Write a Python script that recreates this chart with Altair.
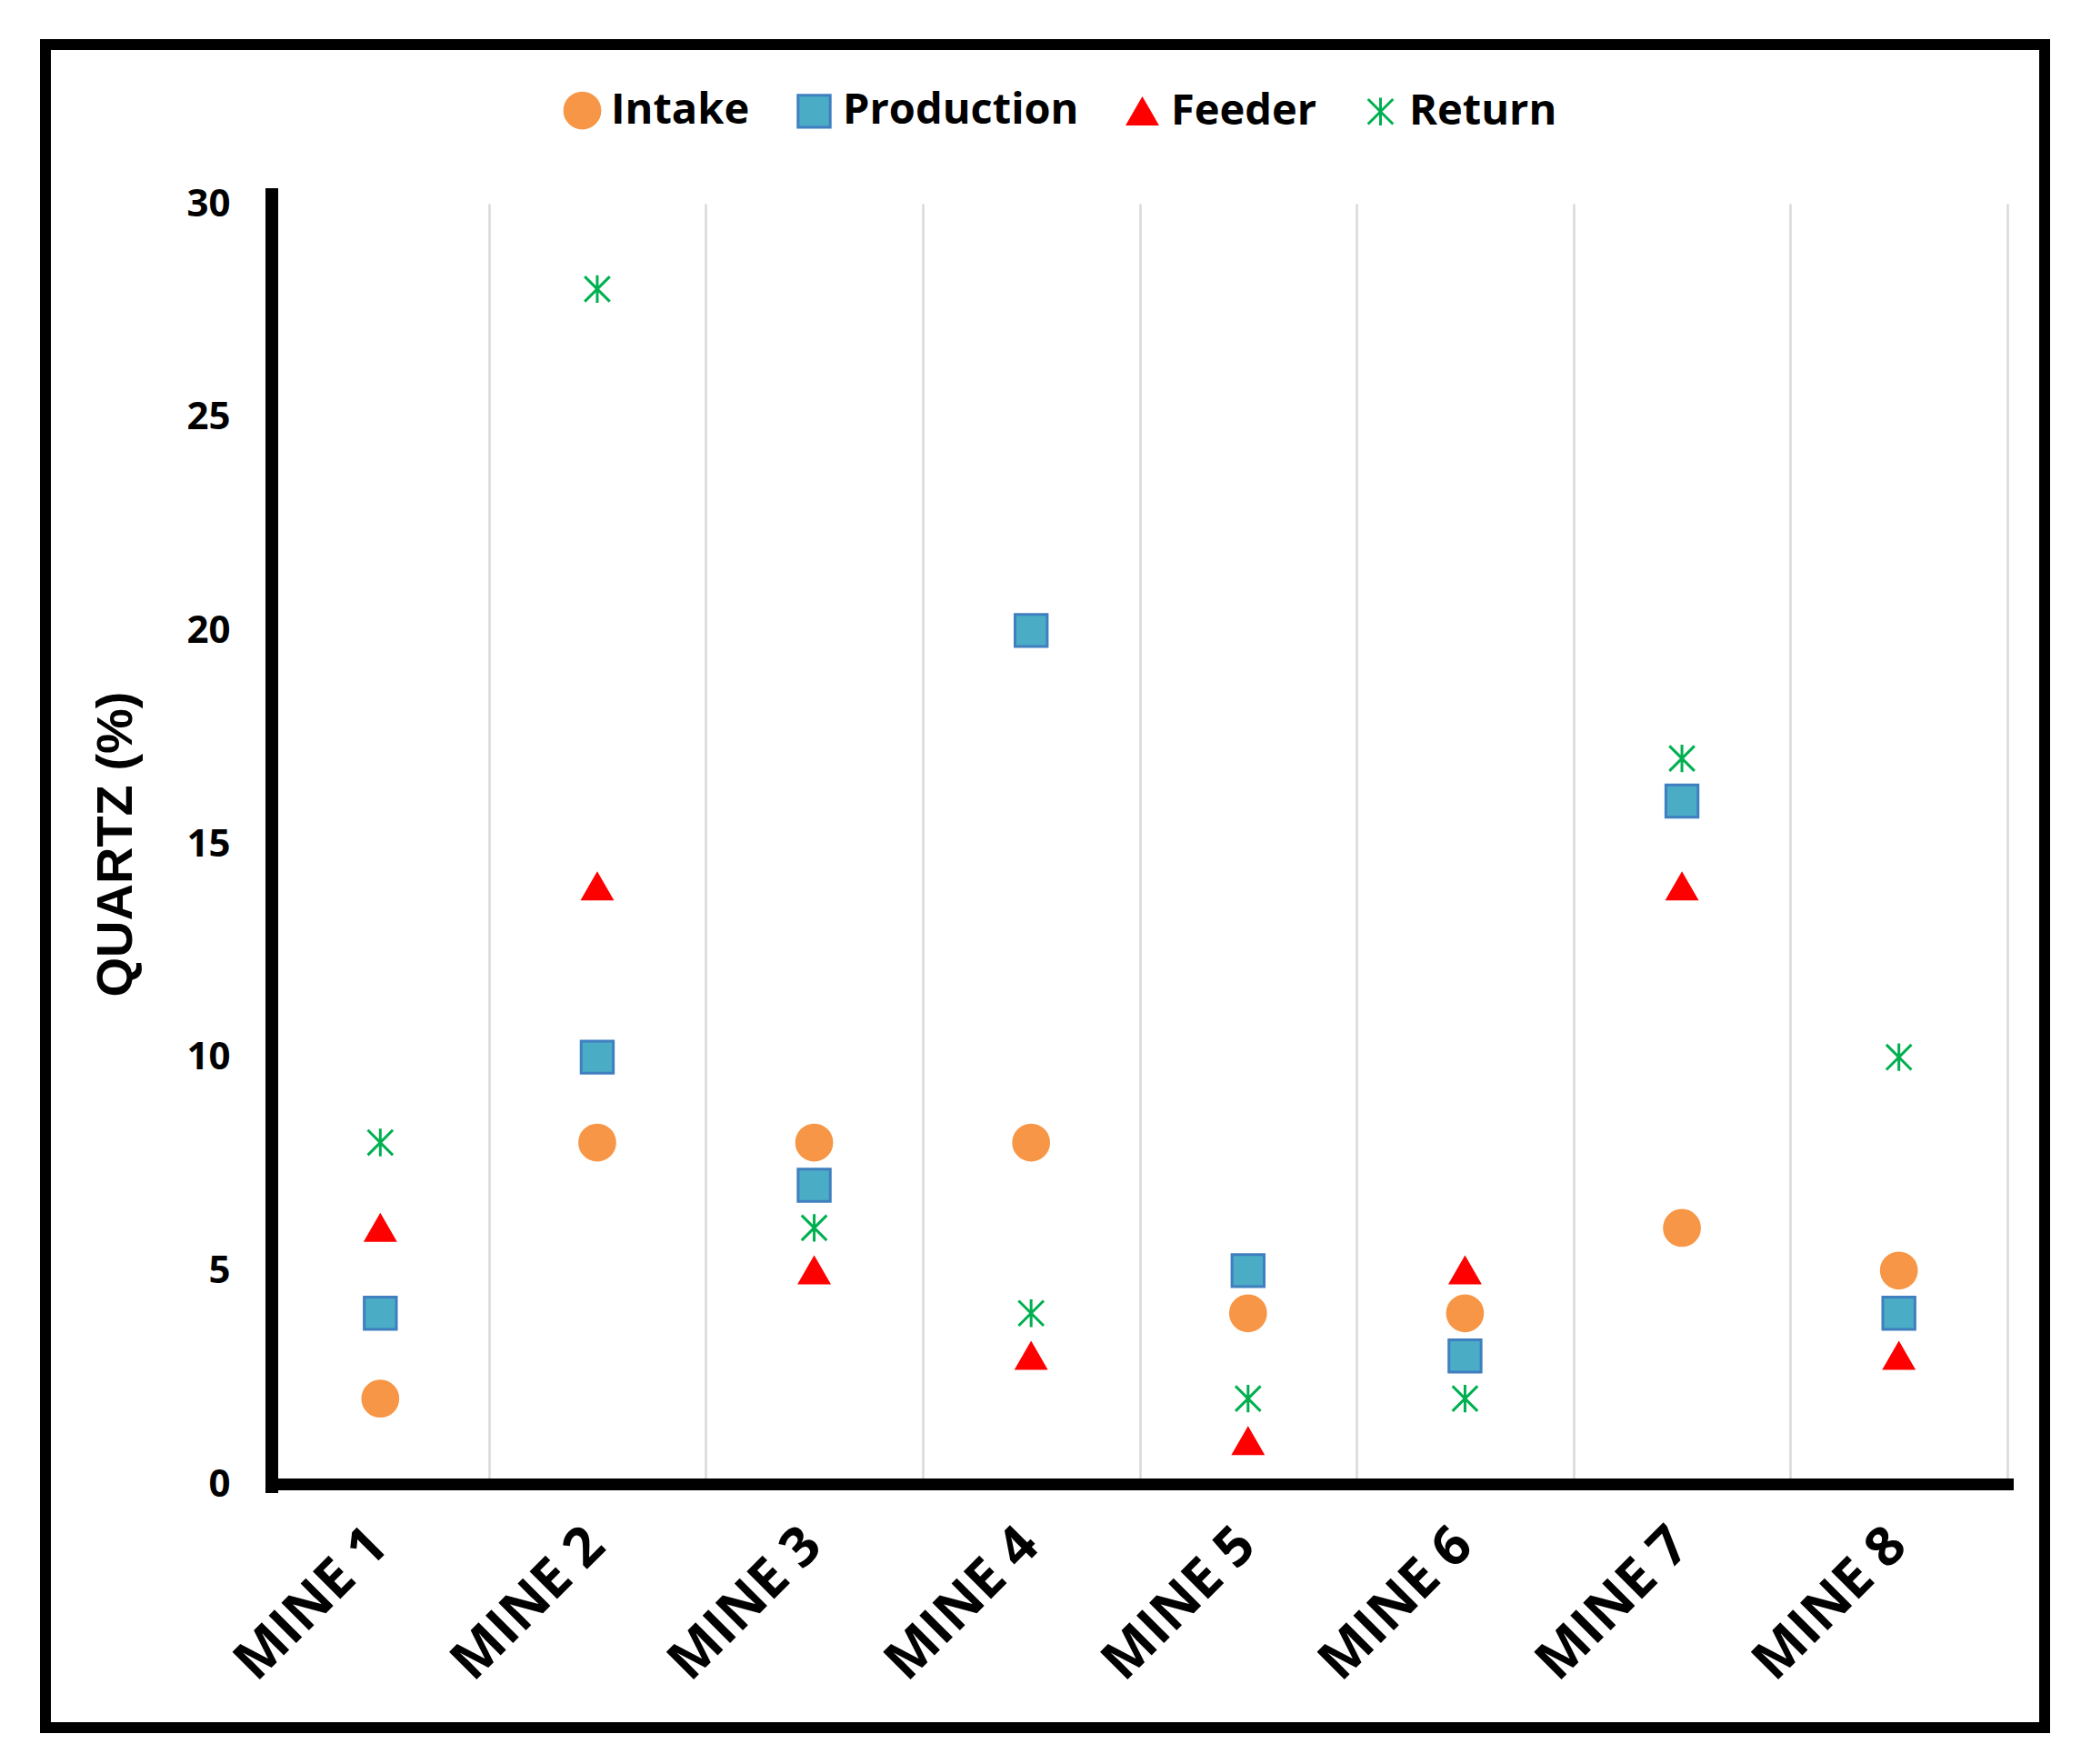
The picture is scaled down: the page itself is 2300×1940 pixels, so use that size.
import altair as alt
import pandas as pd

mines = ["MINE 1", "MINE 2", "MINE 3", "MINE 4", "MINE 5", "MINE 6", "MINE 7", "MINE 8"]
series = ["Intake", "Production", "Feeder", "Return"]
intake = [2, 8, 8, 8, 4, 4, 6, 5]
production = [4, 10, 7, 20, 5, 3, 16, 4]
feeder = [6, 14, 5, 3, 1, 5, 14, 3]
ret = [8, 28, 6, 4, 2, 2, 17, 10]

fills = ["#F79646", "#4BACC6", "#FF0000", "#00B050"]
strokes = ["#F79646", "#3F7FBF", "#FF0000", "#00B050"]
shapes = ["circle", "square", "triangle-up", "M-1,-1L1,1M-1,1L1,-1M0,-1.1L0,1.1"]
sizes = [1500, 760, 1050, 1450]

rows = []
for name, vals in zip(series, [intake, production, feeder, ret]):
    for m, v in zip(mines, vals):
        rows.append({"mine": m, "series": name, "value": v})
df = pd.DataFrame(rows)

W, H = 1909, 1408
PL, PT = 291, 216

leg = alt.Legend(
    title=None, orient="none", direction="horizontal", legendX=318, legendY=-126,
    labelFont="Open Sans", labelFontWeight="bold", labelFontSize=47, labelColor="black",
    labelOffset=8, columnPadding=46, symbolStrokeWidth=3, labelLimit=600,
)

points = alt.Chart(df).mark_point(filled=True, strokeWidth=3, opacity=1).encode(
    x=alt.X("mine:N", sort=mines, title=None,
            scale=alt.Scale(paddingInner=0, paddingOuter=0),
            axis=alt.Axis(labelAngle=315, labelAlign="right", labelBaseline="middle",
                          labelFont="Open Sans", labelFontWeight="bold", labelFontSize=60,
                          labelColor="black", labelPadding=58, ticks=False, labelLimit=600,
                          grid=True, gridColor="#D9D9D9", gridWidth=2.5, tickBand="extent",
                          domainColor="black", domainWidth=13, domainCap="square",
                          labelOffset=-2)),
    y=alt.Y("value:Q", title="QUARTZ (%)",
            scale=alt.Scale(domain=[0, 30], nice=False),
            axis=alt.Axis(values=[0, 5, 10, 15, 20, 25, 30], grid=False, ticks=False,
                          labelFont="Open Sans", labelFontWeight="bold", labelFontSize=42,
                          labelColor="black", labelPadding=46, domain=False,
                          titleFont="Liberation Sans", titleFontWeight="bold",
                          titleFontSize=56, titleColor="black", titleX=-172,
                          titleBaseline="middle")),
    fill=alt.Fill("series:N", sort=series, scale=alt.Scale(domain=series, range=fills), legend=leg),
    shape=alt.Shape("series:N", sort=series, scale=alt.Scale(domain=series, range=shapes), legend=leg),
    stroke=alt.Stroke("series:N", sort=series, scale=alt.Scale(domain=series, range=strokes), legend=leg),
    size=alt.Size("series:N", sort=series, scale=alt.Scale(domain=series, range=sizes), legend=leg),
)

yline = alt.Chart(df).mark_rule(color="black", strokeWidth=13, strokeCap="butt").encode(
    x=alt.value(0), y=alt.Y(datum=-0.2), y2=alt.datum(30.35)
)

frame = alt.Chart(df).mark_rect(fill=None, stroke="black", strokeWidth=12).encode(
    x=alt.value(-249), x2=alt.value(1950), y=alt.value(-175), y2=alt.value(1676)
)

chart = alt.layer(frame, points, yline).properties(
    width=W, height=H, background="white",
    autosize=alt.AutoSizeParams(type="none"),
    padding={"left": PL, "top": PT, "right": 60, "bottom": 290},
).configure_view(strokeWidth=0)

chart.save("out.html", embed_options={"renderer": "svg", "actions": False})
